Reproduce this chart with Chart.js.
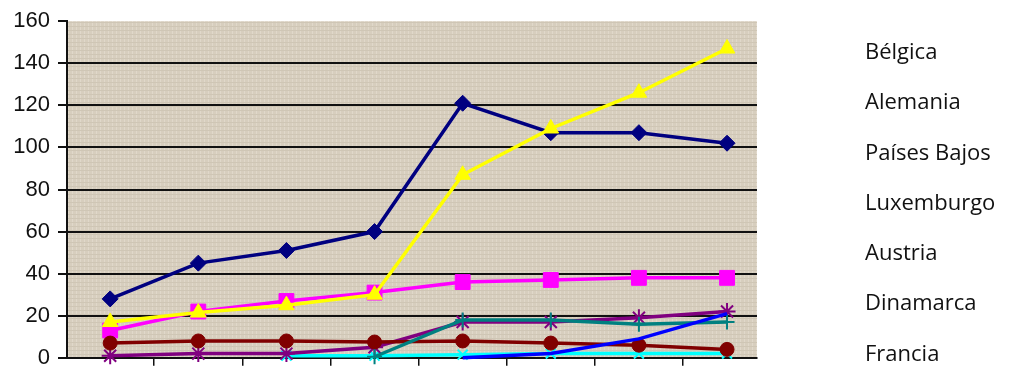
<!DOCTYPE html>
<html>
<head>
<meta charset="utf-8">
<script src="https://cdn.jsdelivr.net/npm/chart.js@4"></script>
<style>
  html, body { margin: 0; padding: 0; background: #fff; }
  #wrap { position: relative; width: 1010px; height: 379px; }
  #legend {
    position: absolute; left: 865px; top: 25px;
    font-family: 'Open Sans', sans-serif; font-size: 22px; line-height: 50.3px; color: #111;
  }
</style>
</head>
<body>
<div id="wrap">
  <canvas id="chart" width="1010" height="379"></canvas>
  <div id="legend"></div>
</div>
<script>
// data (8 periods, x labels not shown)
const periods = [1, 2, 3, 4, 5, 6, 7, 8];
const legendNames = ['Bélgica', 'Alemania', 'Países Bajos', 'Luxemburgo', 'Austria', 'Dinamarca', 'Francia'];
const yTicks = [0, 20, 40, 60, 80, 100, 120, 140, 160];

const navy    = [28, 45, 51, 60, 121, 107, 107, 102];
const magenta = [13, 22, 27, 31, 36, 37, 38, 38];
const yellow  = [17, 21.5, 25, 30, 87, 109, 126, 147];
const cyan    = [null, null, 1, 1, 1.5, 2, 2, 2];
const purple  = [1, 2, 2, 5, 17, 17, 19, 22];
const darkRed = [7, 8, 8, 7.5, 8, 7, 6, 4];
const teal    = [null, null, null, 0.5, 18, 18, 16, 17];
const blue    = [null, null, null, null, 0, 2, 9, 21];

document.addEventListener('DOMContentLoaded', () => {
    document.getElementById('legend').innerHTML = legendNames.map(n => `<div>${n}</div>`).join('');

    // beige textured plot background
    const tile = document.createElement('canvas');
    tile.width = 4; tile.height = 4;
    const tctx = tile.getContext('2d');
    tctx.fillStyle = '#d7cebe'; tctx.fillRect(0, 0, 4, 4);
    tctx.fillStyle = '#e0d8ca'; tctx.fillRect(0, 0, 1, 4);
    tctx.fillStyle = '#cfc6b5'; tctx.fillRect(0, 2, 4, 1);

    const plotBg = {
        id: 'plotBg',
        beforeDraw(chart) {
            const { ctx, chartArea: a } = chart;
            ctx.save();
            ctx.fillStyle = ctx.createPattern(tile, 'repeat');
            ctx.fillRect(a.left, a.top, a.width, a.height);
            ctx.restore();
        }
    };

    const pts = arr => arr.map((v, i) => ({ x: i, y: v }));
    const series = [
        { data: navy,    color: '#000080', style: 'rectRot',  r: 8 },
        { data: magenta, color: '#ff00ff', style: 'rect',     r: 10.5 },
        { data: yellow,  color: '#ffff00', style: 'triangle', r: 9 },
        { data: cyan,    color: '#00ffff', style: 'crossRot', r: 7 },
        { data: purple,  color: '#800080', style: 'star',     r: 8.5 },
        { data: darkRed, color: '#800000', style: 'circle',   r: 7 },
        { data: teal,    color: '#008080', style: 'cross',    r: 7.5 },
        { data: blue,    color: '#0000ff', style: 'circle',   r: 0 }
    ];

    new Chart(document.getElementById('chart'), {
        type: 'line',
        data: {
            datasets: series.map((s, i) => ({
                label: legendNames[i] || '',
                data: pts(s.data),
                borderColor: s.color,
                backgroundColor: s.color,
                borderWidth: 3.5,
                pointStyle: s.style,
                pointRadius: s.r,
                pointBorderWidth: (s.style === 'cross' || s.style === 'crossRot' || s.style === 'star') ? 2 : 1,
                pointBorderColor: s.color,
                pointBackgroundColor: s.color,
                tension: 0,
                spanGaps: false,
                clip: false,
                order: series.length - i
            }))
        },
        options: {
            responsive: false,
            animation: false,
            layout: { padding: { top: 20, right: 253, bottom: 1, left: 0 } },
            plugins: { legend: { display: false }, tooltip: { enabled: false } },
            scales: {
                x: {
                    type: 'linear',
                    min: -0.49,
                    max: 7.34,
                    afterBuildTicks: scale => {
                        scale.ticks = periods.slice(1).map((_, i) => ({ value: i + 0.5 }));
                    },
                    ticks: { display: false },
                    grid: { drawOnChartArea: false, drawTicks: true, tickLength: 8, color: '#111', lineWidth: 1.5 },
                    border: { display: true, color: '#111', width: 2 }
                },
                y: {
                    min: 0,
                    max: 160,
                    afterBuildTicks: scale => { scale.ticks = yTicks.map(v => ({ value: v })); },
                    afterFit: scale => { scale.width = 67; },
                    ticks: {
                        color: '#111',
                        padding: 8,
                        font: { family: "'Liberation Sans', Arial, sans-serif", size: 22 }
                    },
                    grid: {
                        color: c => (c.tick && c.tick.value === 160) ? 'rgba(0,0,0,0)' : '#111',
                        lineWidth: 2,
                        drawTicks: true,
                        tickLength: 9,
                        tickColor: '#111'
                    },
                    border: { display: true, color: '#111', width: 2 }
                }
            }
        },
        plugins: [plotBg]
    });
});
</script>
</body>
</html>
